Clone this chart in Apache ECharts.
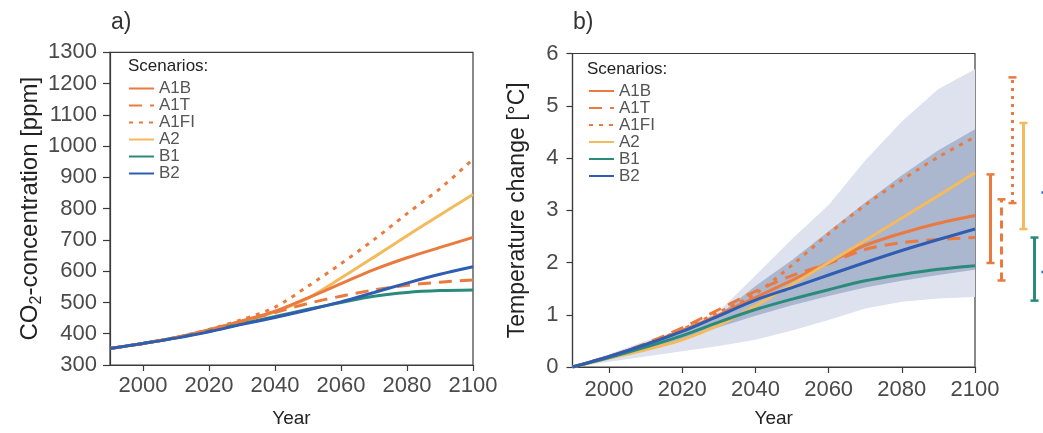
<!DOCTYPE html>
<html>
<head>
<meta charset="utf-8">
<script src="https://cdn.jsdelivr.net/npm/echarts@6/dist/echarts.min.js"></script>
<style>
  html, body { margin: 0; padding: 0; background: #fff; }
  #chart { width: 1043px; height: 433px; }
</style>
</head>
<body>
<div id="chart"></div>
<script>
// Projection years (every decade)
const years = [1990, 2000, 2010, 2020, 2030, 2040, 2050, 2060, 2070, 2080, 2090, 2100];

// a) CO2 concentration [ppm] per scenario
const co2A1B  = [353, 369, 388, 413, 441, 472, 515, 560, 605, 643, 676, 708];
const co2A1T  = [353, 369, 388, 412, 440, 468, 497, 520, 540, 555, 565, 572];
const co2A1FI = [353, 369, 388, 414, 445, 485, 552, 624, 701, 784, 864, 958];
const co2A2   = [353, 369, 387, 410, 438, 470, 514, 578, 645, 713, 780, 845];
const co2B1   = [353, 369, 387, 408, 432, 455, 478, 500, 520, 532, 538, 540];
const co2B2   = [353, 369, 386, 406, 430, 452, 476, 502, 532, 562, 590, 614];

// b) Temperature change [°C] per scenario
const tA1B  = [0, 0.20, 0.43, 0.70, 1.00, 1.33, 1.66, 2.00, 2.33, 2.56, 2.75, 2.90];
const tA1T  = [0, 0.20, 0.45, 0.75, 1.10, 1.45, 1.75, 1.98, 2.25, 2.38, 2.44, 2.48];
const tA1FI = [0, 0.20, 0.43, 0.72, 1.05, 1.40, 1.95, 2.55, 3.10, 3.58, 4.02, 4.40];
const tA2   = [0, 0.17, 0.33, 0.52, 0.80, 1.17, 1.58, 2.00, 2.42, 2.85, 3.28, 3.72];
const tB1   = [0, 0.18, 0.38, 0.60, 0.86, 1.10, 1.30, 1.48, 1.65, 1.77, 1.87, 1.94];
const tB2   = [0, 0.20, 0.43, 0.68, 0.98, 1.28, 1.52, 1.76, 2.00, 2.23, 2.44, 2.64];

// Envelopes: all scenarios, average model (inner) and full model range (outer)
const outerUpper = [0, 0.25, 0.50, 0.72, 1.06, 1.75, 2.45, 3.10, 3.95, 4.70, 5.32, 5.70];
const outerLower = [0, 0.10, 0.20, 0.30, 0.40, 0.52, 0.70, 0.90, 1.12, 1.25, 1.31, 1.34];
const innerUpper = [0, 0.22, 0.45, 0.68, 1.00, 1.55, 2.05, 2.60, 3.15, 3.67, 4.15, 4.55];
const innerLower = [0, 0.15, 0.33, 0.52, 0.76, 0.98, 1.18, 1.36, 1.52, 1.65, 1.76, 1.86];

// Ranges in 2100 for each scenario (low, high)
const rangeNames = ['A1B', 'A1T', 'A1FI', 'A2', 'B1', 'B2'];
const rangeLow   = [2.05, 1.72, 3.18, 2.69, 1.34, 1.88];
const rangeHigh  = [3.72, 3.25, 5.55, 4.69, 2.53, 3.38];

// Axis ticks
const yearTicks = [2000, 2020, 2040, 2060, 2080, 2100];
const co2Ticks  = [300, 400, 500, 600, 700, 800, 900, 1000, 1100, 1200, 1300];
const tempTicks = [0, 1, 2, 3, 4, 5, 6];

const scenarioNames = ['A1B', 'A1T', 'A1FI', 'A2', 'B1', 'B2'];

const ORANGE = '#ea7a3e';
const YELLOW = '#f3ba5e';
const TEAL   = '#2b8b7b';
const BLUE   = '#2f5db2';
const styles = {
  A1B:  { color: ORANGE, type: 'solid' },
  A1T:  { color: ORANGE, type: [13, 8] },
  A1FI: { color: ORANGE, type: [4, 6] },
  A2:   { color: YELLOW, type: 'solid' },
  B1:   { color: TEAL,   type: 'solid' },
  B2:   { color: BLUE,   type: 'solid' }
};

const FONT = 'Liberation Sans, Arial, Helvetica, sans-serif';
const AXIS_COLOR = '#3a3a3a';
const LABEL_COLOR = '#4a4a4a';
const plain = v => String(v);

const zip = (xs, ys) => xs.map((x, i) => [x, ys[i]]);

function lineSeries(name, values, gi) {
  const s = styles[name];
  return {
    name: name,
    type: 'line',
    xAxisIndex: gi, yAxisIndex: gi,
    data: zip(years, values),
    smooth: 0.3,
    symbol: 'none',
    lineStyle: { color: s.color, width: 3, type: s.type, cap: 'butt' },
    itemStyle: { color: s.color },
    z: 5
  };
}

function bandSeries(upper, lower, fill, z) {
  return {
    type: 'custom',
    xAxisIndex: 1, yAxisIndex: 1,
    silent: true,
    z: z,
    data: [[years[0], 0]],
    renderItem: function (params, api) {
      const top = years.map((y, i) => api.coord([y, upper[i]]));
      const bottom = years.map((y, i) => api.coord([y, lower[i]])).reverse();
      return {
        type: 'polygon',
        shape: { points: top.concat(bottom) },
        style: { fill: fill, stroke: null }
      };
    }
  };
}

function xAxisCfg(gi, nameGap, labelMargin) {
  return {
    gridIndex: gi, type: 'value', min: 1990, max: 2100,
    name: 'Year', nameLocation: 'middle', nameGap: nameGap,
    nameTextStyle: { fontFamily: FONT, fontSize: 19, color: '#222' },
    axisLine: { lineStyle: { color: AXIS_COLOR, width: 1.2 } },
    axisTick: { length: 6, lineStyle: { color: AXIS_COLOR, width: 1.2 }, customValues: yearTicks },
    axisLabel: { fontFamily: FONT, fontSize: 22, color: LABEL_COLOR, margin: labelMargin, customValues: yearTicks, formatter: plain },
    splitLine: { show: false }
  };
}

function legendCfg(left, top, rowHeight) {
  return {
    data: scenarioNames, orient: 'vertical', left: left, top: top, padding: 0,
    itemWidth: 25, itemHeight: 10, itemGap: 0, itemTextGap: 7,
    itemStyle: { opacity: 0 },
    textStyle: { fontFamily: FONT, fontSize: 17, color: '#555', lineHeight: rowHeight },
    selectedMode: false
  };
}

const option = {
  animation: false,
  backgroundColor: '#fff',
  title: [
    { text: 'a)', left: 111, top: 11, padding: 0, textStyle: { fontFamily: FONT, fontSize: 23, fontWeight: 'normal', color: '#333' } },
    { text: 'b)', left: 573, top: 11, padding: 0, textStyle: { fontFamily: FONT, fontSize: 23, fontWeight: 'normal', color: '#333' } },
    { text: 'Scenarios:', left: 128, top: 58, padding: 0, textStyle: { fontFamily: FONT, fontSize: 17, fontWeight: 'normal', color: '#222' } },
    { text: 'Scenarios:', left: 587, top: 61, padding: 0, textStyle: { fontFamily: FONT, fontSize: 17, fontWeight: 'normal', color: '#222' } }
  ],
  legend: [
    legendCfg(128, 80, 15),
    legendCfg(588, 82.5, 15.5)
  ],
  grid: [
    { left: 110, top: 52.3, width: 363, height: 317, show: true, borderColor: AXIS_COLOR, borderWidth: 1.2, backgroundColor: 'transparent' },
    { left: 572.5, top: 53.5, width: 402.5, height: 318.2, show: true, borderColor: AXIS_COLOR, borderWidth: 1.2, backgroundColor: 'transparent' },
    // slots for the 2100 ranges, 11 px apart; the last one falls past the right edge
    { left: 979.5, top: 53.5, width: 55, height: 318.2 }
  ],
  xAxis: [
    xAxisCfg(0, 44, 10),
    xAxisCfg(1, 42, 12),
    { gridIndex: 2, type: 'value', min: 0, max: 5, show: false }
  ],
  yAxis: [
    {
      gridIndex: 0, type: 'value', min: co2Ticks[0], max: co2Ticks[co2Ticks.length - 1], interval: 100,
      name: 'CO{sub|2}-concentration [ppm]', nameLocation: 'middle', nameGap: 71, nameRotate: 90,
      nameTextStyle: {
        fontFamily: FONT, fontSize: 24, color: '#222', lineHeight: 28, verticalAlign: 'middle',
        rich: { sub: { fontFamily: FONT, fontSize: 16, color: '#222', verticalAlign: 'bottom', lineHeight: 11 } }
      },
      axisLine: { show: true, lineStyle: { color: AXIS_COLOR, width: 1.2 } },
      axisTick: { show: true, length: 7, lineStyle: { color: AXIS_COLOR, width: 1.2 } },
      axisLabel: { fontFamily: FONT, fontSize: 22, color: LABEL_COLOR, margin: 13, formatter: plain },
      splitLine: { show: false }
    },
    {
      gridIndex: 1, type: 'value', min: tempTicks[0], max: tempTicks[tempTicks.length - 1], interval: 1,
      name: 'Temperature change [°C]', nameLocation: 'middle', nameGap: 43, nameRotate: 90,
      nameTextStyle: { fontFamily: FONT, fontSize: 23, color: '#222' },
      axisLine: { show: true, lineStyle: { color: AXIS_COLOR, width: 1.2 } },
      axisTick: { show: true, length: 6, lineStyle: { color: AXIS_COLOR, width: 1.2 } },
      axisLabel: { fontFamily: FONT, fontSize: 22, color: LABEL_COLOR, margin: 14, formatter: plain },
      splitLine: { show: false }
    },
    { gridIndex: 2, type: 'value', min: 0, max: 6, show: false }
  ],
  series: [
    // a) CO2 concentrations
    lineSeries('A1FI', co2A1FI, 0),
    lineSeries('A2', co2A2, 0),
    lineSeries('A1B', co2A1B, 0),
    lineSeries('B1', co2B1, 0),
    lineSeries('A1T', co2A1T, 0),
    lineSeries('B2', co2B2, 0),
    // b) envelopes
    bandSeries(outerUpper, outerLower, '#dde2ee', 1),
    bandSeries(innerUpper, innerLower, '#abb6cf', 2),
    // b) temperature change
    lineSeries('A1FI', tA1FI, 1),
    lineSeries('A1T', tA1T, 1),
    lineSeries('A1B', tA1B, 1),
    lineSeries('A2', tA2, 1),
    lineSeries('B1', tB1, 1),
    lineSeries('B2', tB2, 1),
    // b) ranges in 2100
    {
      type: 'custom',
      xAxisIndex: 2, yAxisIndex: 2,
      silent: true,
      clip: false,
      data: rangeNames.map((n, i) => [i + 1, rangeLow[i], rangeHigh[i]]),
      renderItem: function (params, api) {
        const name = rangeNames[params.dataIndex];
        const s = styles[name];
        const x = api.value(0);
        const lo = api.coord([x, api.value(1)]);
        const hi = api.coord([x, api.value(2)]);
        const half = 4;
        const dash = s.type === 'solid' ? null : (name === 'A1T' ? [8, 5] : [3, 5]);
        return {
          type: 'group',
          children: [
            { type: 'line', shape: { x1: lo[0], y1: lo[1], x2: hi[0], y2: hi[1] },
              style: { stroke: s.color, lineWidth: 3, lineDash: dash } },
            { type: 'line', shape: { x1: hi[0] - half, y1: hi[1], x2: hi[0] + half, y2: hi[1] },
              style: { stroke: s.color, lineWidth: 2.5 } },
            { type: 'line', shape: { x1: lo[0] - half, y1: lo[1], x2: lo[0] + half, y2: lo[1] },
              style: { stroke: s.color, lineWidth: 2.5 } }
          ]
        };
      }
    }
  ]
};

const chart = echarts.init(document.getElementById('chart'), null, { renderer: 'canvas' });
chart.setOption(option);
</script>
</body>
</html>
